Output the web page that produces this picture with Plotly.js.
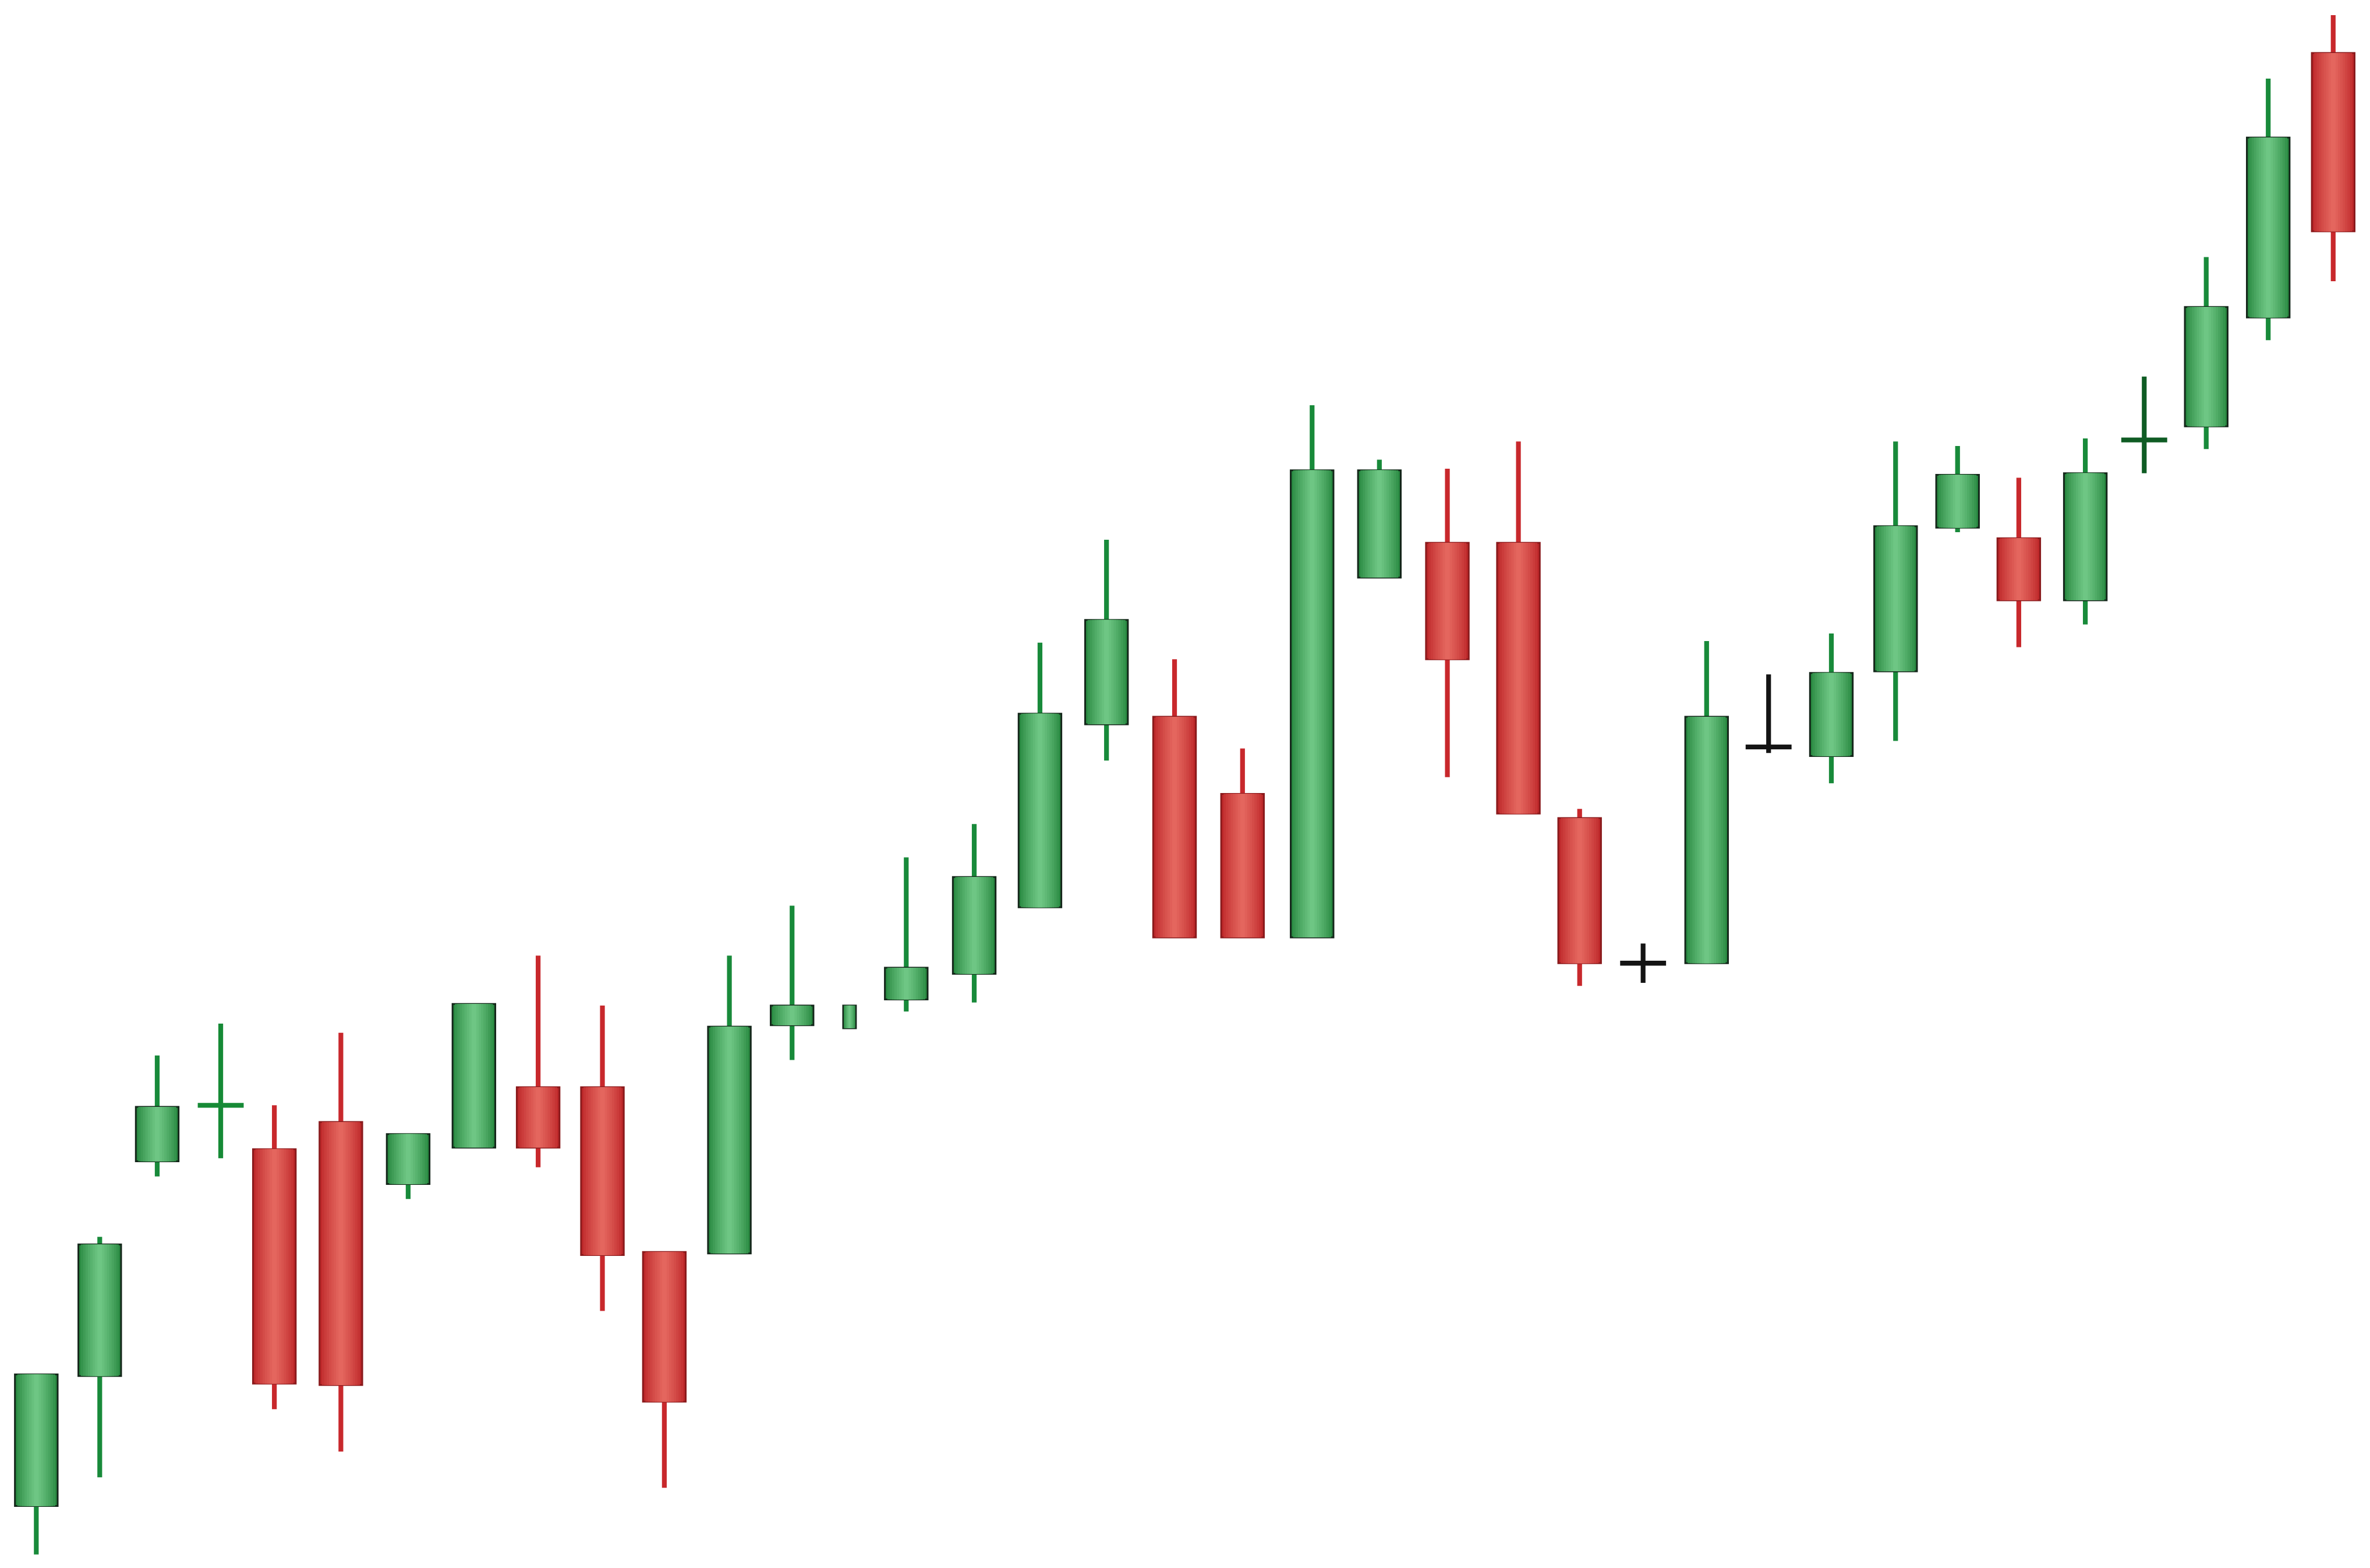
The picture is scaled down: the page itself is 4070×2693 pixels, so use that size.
<!DOCTYPE html>
<html>
<head>
<meta charset="utf-8">
<script src="https://cdn.plot.ly/plotly-3.0.1.min.js"></script>
<style>html,body{margin:0;padding:0;background:#fff;}#chart{width:4070px;height:2693px;}</style>
</head>
<body>
<div id="chart"></div>
<script>
// Session positions (in session units, as placed in the picture) and OHLC values
var sessions = [1.000,1.995,2.896,3.892,4.733,5.776,6.831,7.862,8.869,9.877,10.848,11.868,12.851,13.752,14.641,15.707,16.738,17.781,18.848,19.914,21.005,22.060,23.126,24.240,25.200,26.195,27.191,28.163,29.147,30.154,31.126,32.086,33.129,34.053,35.025,35.997,37.016];
var openVals  = [54.1,62.7,76.9,80.6,77.7,79.5,75.4,77.8,81.8,81.8,70.9,70.8,85.9,85.7,87.6,89.3,93.7,105.8,106.3,101.2,91.7,115.5,117.8,117.8,99.6,90.0,90.0,104.3,103.7,109.3,118.8,118.1,114.0,124.6,125.5,132.7,150.2];
var highVals  = [62.8,71.9,83.9,86.0,80.6,85.4,78.7,87.3,90.5,87.2,70.9,90.5,93.8,87.2,97.0,99.2,111.2,118.0,110.1,104.2,126.9,123.3,122.7,124.5,100.2,91.3,111.3,109.1,111.8,124.5,124.2,122.1,124.7,128.8,136.7,148.5,152.7];
var lowVals   = [50.9,56.0,75.9,77.1,60.5,57.7,74.4,77.8,76.5,67.0,55.3,70.8,83.6,85.7,86.8,87.4,93.7,103.4,91.7,91.7,91.7,115.5,102.3,99.9,88.5,88.7,90.0,103.9,101.9,104.7,118.5,110.9,112.4,122.4,124.0,131.2,135.1];
var closeVals = [62.8,71.4,80.5,80.6,62.2,62.1,78.7,87.3,77.8,70.7,61.0,85.8,87.2,87.2,89.7,95.7,106.5,112.7,91.7,91.7,122.6,122.6,110.1,99.9,90.0,90.0,106.3,104.3,109.2,118.9,122.3,114.0,122.4,124.6,133.4,144.6,138.4];
// candle kind: g = rising, r = falling, d = green cross, k = black cross, e = dark green cross, n = narrow rising body
var kinds = ['g','g','g','d','r','r','g','g','r','r','r','g','g','n','g','g','g','g','r','r','g','g','r','r','r','k','g','k','g','g','g','r','g','e','g','g','r'];

var BODY_W = 0.67, NARROW_W = 0.2, CROSS_W = 0.72, WICK_W = 0.075, CROSS_T = 0.32;

var wickColor = {g:'#188a3a', n:'#188a3a', r:'#c8282c', d:'#168a36', k:'#141414', e:'#0f5c24'};
var outlineColor = {g:'#14261a', n:'#14261a', r:'#8a1a1c'};
// shading from edge colour to centre colour
var edgeRGB = {g:[40,136,64], r:[190,40,42]};
var centreRGB = {g:[110,198,132], r:[228,102,94]};
var NLAYERS = 9;

function isCross(k){ return k==='d' || k==='k' || k==='e'; }
function mix(a, b, t){
  return 'rgb(' + [0,1,2].map(function(j){ return Math.round(a[j] + (b[j]-a[j])*t); }).join(',') + ')';
}

var traces = [];
// wicks
traces.push({
  type:'bar', x:sessions,
  base: lowVals,
  y: sessions.map(function(_,i){ return highVals[i]-lowVals[i]; }),
  width: sessions.map(function(){ return WICK_W; }),
  marker:{color: kinds.map(function(k){ return wickColor[k]; }), line:{width:0}},
  hoverinfo:'skip'
});
// bodies in layers to imitate the shaded fill
for (var li = 0; li < NLAYERS; li++) {
  var f = 1 - li/NLAYERS;
  var t = Math.pow(li/(NLAYERS-1), 0.8);
  var bases = [], heights = [], widths = [], colors = [], lcols = [], lw = [];
  sessions.forEach(function(_, i){
    var k = kinds[i], o = openVals[i], c = closeVals[i];
    if (isCross(k)) {
      bases.push(o - CROSS_T/2); heights.push(CROSS_T);
      widths.push(li===0 ? CROSS_W : 0.0001);
      colors.push(li===0 ? wickColor[k] : 'rgba(0,0,0,0)');
      lcols.push('rgba(0,0,0,0)'); lw.push(0);
    } else {
      var base = Math.min(o,c), h = Math.abs(c-o);
      var full = (k==='n') ? NARROW_W : BODY_W;
      var tone = (k==='r') ? 'r' : 'g';
      bases.push(base); heights.push(h);
      widths.push(full * f);
      colors.push(mix(edgeRGB[tone], centreRGB[tone], t));
      if (li===0) { lcols.push(outlineColor[k]); lw.push(3); }
      else { lcols.push('rgba(0,0,0,0)'); lw.push(0); }
    }
  });
  traces.push({
    type:'bar', x:sessions, base:bases, y:heights, width:widths,
    marker:{color:colors, line:{color:lcols, width:lw}},
    hoverinfo:'skip'
  });
}

var layout = {
  width:4070, height:2693,
  margin:{l:0,r:0,t:0,b:0,pad:0},
  paper_bgcolor:'#ffffff', plot_bgcolor:'#ffffff',
  barmode:'overlay', showlegend:false,
  xaxis:{range:[0.431,37.593], visible:false, fixedrange:true},
  yaxis:{range:[50,153.7], visible:false, fixedrange:true}
};
Plotly.newPlot('chart', traces, layout, {staticPlot:true, displayModeBar:false});
</script>
</body>
</html>
